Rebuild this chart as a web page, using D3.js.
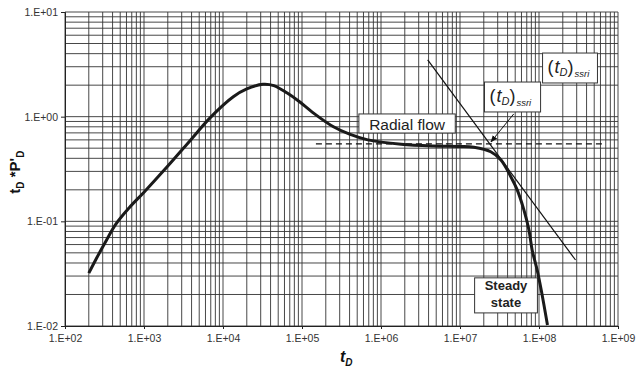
<!DOCTYPE html>
<html>
<head>
<meta charset="utf-8">
<script src="https://cdn.jsdelivr.net/npm/d3@7"></script>
<style>
  body { margin: 0; background: #fff; }
  svg { display: block; font-family: "Liberation Sans", Arial, sans-serif; }
  .tick text { fill: #333; font-size: 10.5px; }
</style>
</head>
<body>
<div id="chart"></div>
<script>
// ---- data ----
var xDecades = [1e2, 1e3, 1e4, 1e5, 1e6, 1e7, 1e8, 1e9];
var yDecades = [1e-2, 1e-1, 1e0, 1e1];

// derivative curve t_D * P'_D vs t_D
var curveT = [2.0e2, 2.45e2, 3.2e2, 4.4e2, 6.5e2, 1.0e3, 1.95e3, 3.9e3, 6.9e3, 1.35e4, 2.0e4, 3.2e4, 4.4e4,
              6.5e4, 9.3e4, 1.5e5, 2.5e5, 4.0e5, 6.8e5, 1.8e6, 4.6e6, 1.0e7, 1.5e7, 2.45e7, 3.3e7,
              4.4e7, 5.3e7, 6.45e7, 7.45e7, 8.2e7, 9.5e7, 1.08e8, 1.28e8];
var curveP = [0.032, 0.043, 0.062, 0.094, 0.135, 0.19, 0.33, 0.60, 0.98, 1.55, 1.84, 2.04, 1.98,
              1.68, 1.39, 1.04, 0.80, 0.68, 0.60, 0.545, 0.525, 0.52, 0.51, 0.462, 0.385,
              0.267, 0.20, 0.128, 0.083, 0.053, 0.034, 0.021, 0.0102];

// radial flow level (dashed)
var radialT = [1.5e5, 6.6e8];
var radialP = [0.55, 0.55];

// unit-slope tangent line
var tangentT = [3.9e6, 2.9e8];
var tangentP = [3.48, 0.0427];

var xTickLabel = function (d) { var e = Math.round(Math.log10(d)); return "1.E" + (e < 0 ? "-" : "+") + String(Math.abs(e)).padStart(2, "0"); };

// ---- chart ----
var width = 636, height = 371;
var margin = { top: 12, right: 18, bottom: 45, left: 65 };
var w = width - margin.left - margin.right, h = height - margin.top - margin.bottom;

var svg = d3.select("#chart").append("svg")
    .attr("width", width).attr("height", height)
    .append("g")
    .attr("transform", `translate(${margin.left},${margin.top})`);

var x = d3.scaleLog().domain([1e2, 1e9]).range([0, w]);
var y = d3.scaleLog().domain([1e-2, 1e1]).range([h, 0]);

// grid: 1..9 within each decade
var xGrid = [], yGrid = [];
xDecades.slice(0, -1).forEach(d => { for (var k = 1; k < 10; k++) xGrid.push(d * k); });
xGrid.push(1e9);
yDecades.slice(0, -1).forEach(d => { for (var k = 1; k < 10; k++) yGrid.push(d * k); });
yGrid.push(1e1);

svg.append("g").selectAll("line").data(xGrid).enter().append("line")
    .attr("x1", d => x(d)).attr("x2", d => x(d))
    .attr("y1", 0).attr("y2", h)
    .attr("stroke", "#333").attr("stroke-width", 0.9);

svg.append("g").selectAll("line").data(yGrid).enter().append("line")
    .attr("x1", 0).attr("x2", w)
    .attr("y1", d => y(d)).attr("y2", d => y(d))
    .attr("stroke", "#333").attr("stroke-width", 0.9);

// axes
var xAxis = svg.append("g").attr("transform", `translate(0,${h})`)
    .call(d3.axisBottom(x).tickValues(xDecades).tickFormat(xTickLabel).tickSize(3).tickPadding(6));
var yAxis = svg.append("g")
    .call(d3.axisLeft(y).tickValues(yDecades).tickFormat(xTickLabel).tickSize(4).tickPadding(3));
[xAxis, yAxis].forEach(a => {
    a.select(".domain").attr("stroke", "#222");
    a.selectAll(".tick line").attr("stroke", "#222");
    a.attr("font-family", null).attr("font-size", null);
});

// radial flow dashed line
var line = d3.line().x(d => x(d[0])).y(d => y(d[1]));
svg.append("path")
    .datum(radialT.map((t, i) => [t, radialP[i]]))
    .attr("d", line)
    .attr("fill", "none").attr("stroke", "#111").attr("stroke-width", 1.3)
    .attr("stroke-dasharray", "6,4");

// tangent
svg.append("path")
    .datum(tangentT.map((t, i) => [t, tangentP[i]]))
    .attr("d", line)
    .attr("fill", "none").attr("stroke", "#111").attr("stroke-width", 1.2);

// annotation boxes (drawn before the curve)
function box(x0, x1, y0, y1) {
    svg.append("rect")
        .attr("x", x(x0)).attr("y", y(y0))
        .attr("width", x(x1) - x(x0)).attr("height", y(y1) - y(y0))
        .attr("fill", "#fff").attr("stroke", "#333").attr("stroke-width", 1);
}

// Radial flow
box(10 ** 5.72, 10 ** 6.94, 10 ** 0.026, 10 ** -0.156);
svg.append("text")
    .attr("x", (x(10 ** 5.72) + x(10 ** 6.94)) / 2).attr("y", y(10 ** -0.125))
    .attr("text-anchor", "middle").attr("font-size", 15.5).attr("fill", "#222")
    .text("Radial flow");

// Steady state
box(10 ** 7.185, 10 ** 7.98, 10 ** -1.54, 10 ** -1.875);
var ssx = (x(10 ** 7.185) + x(10 ** 7.98)) / 2;
var ss = svg.append("text").attr("text-anchor", "middle").attr("font-size", 13)
    .attr("font-weight", "bold").attr("fill", "#222");
ss.append("tspan").attr("x", ssx).attr("y", y(10 ** -1.655)).text("Steady");
ss.append("tspan").attr("x", ssx).attr("y", y(10 ** -1.815)).text("state");

// (t_D)_ssri boxes
function ssriLabel(x0, x1, y0, y1) {
    box(x0, x1, y0, y1);
    var t = svg.append("text").attr("x", x(x0) + 5).attr("y", (y(y0) + y(y1)) / 2 + 5)
        .attr("fill", "#222").attr("font-style", "italic");
    t.append("tspan").attr("font-size", 18).attr("font-style", "normal").text("(");
    t.append("tspan").attr("font-size", 18).attr("dx", 1).text("t");
    t.append("tspan").attr("font-size", 11).attr("dy", 3).text("D");
    t.append("tspan").attr("font-size", 18).attr("font-style", "normal").attr("dy", -3).text(")");
    t.append("tspan").attr("font-size", 9.5).attr("dy", 4).attr("dx", 1).text("ssri");
}
ssriLabel(10 ** 7.31, 10 ** 8.02, 10 ** 0.331, 10 ** 0.045);
ssriLabel(10 ** 8.045, 10 ** 8.74, 10 ** 0.608, 10 ** 0.322);

// arrow from lower box to the intersection
svg.append("defs").append("marker")
    .attr("id", "arr").attr("viewBox", "0 0 10 10").attr("refX", 9).attr("refY", 5)
    .attr("markerWidth", 7).attr("markerHeight", 7).attr("orient", "auto")
    .append("path").attr("d", "M0,1 L10,5 L0,9 Z").attr("fill", "#111");
svg.append("line")
    .attr("x1", x(10 ** 7.68)).attr("y1", y(10 ** 0.026))
    .attr("x2", x(tangentT[0] * tangentP[0] / radialP[0])).attr("y2", y(radialP[0]) - 2)
    .attr("stroke", "#111").attr("stroke-width", 1).attr("marker-end", "url(#arr)");

// main curve
svg.append("path")
    .datum(curveT.map((t, i) => [t, curveP[i]]))
    .attr("d", d3.line().x(d => x(d[0])).y(d => y(d[1])).curve(d3.curveCatmullRom.alpha(0.5)))
    .attr("fill", "none").attr("stroke", "#1a1a1a").attr("stroke-width", 3)
    .attr("stroke-linejoin", "round");

// axis titles
var xt = svg.append("text").attr("x", x(10 ** 5.48)).attr("y", h + 36)
    .attr("font-size", 16).attr("font-weight", "bold").attr("font-style", "italic").attr("fill", "#111");
xt.append("tspan").text("t");
xt.append("tspan").attr("font-size", 10).attr("dy", 4).text("D");

var yt = svg.append("text")
    .attr("transform", `translate(${-45},${y(10 ** -0.53)}) rotate(-90)`)
    .attr("text-anchor", "middle").attr("font-size", 15).attr("font-weight", "bold").attr("fill", "#111");
yt.append("tspan").text("t");
yt.append("tspan").attr("font-size", 10).attr("dy", 4).text("D");
yt.append("tspan").attr("dy", -4).text(" *P'");
yt.append("tspan").attr("font-size", 10).attr("dy", 4).text("D");
</script>
</body>
</html>
